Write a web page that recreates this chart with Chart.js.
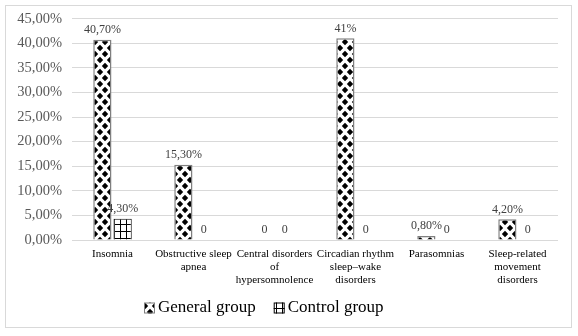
<!DOCTYPE html>
<html>
<head>
<meta charset="utf-8">
<script src="https://cdn.jsdelivr.net/npm/chart.js@4.4.0/dist/chart.umd.min.js"></script>
<style>
  html, body { margin: 0; padding: 0; background: #fff; }
  #wrap { width: 578px; height: 336px; }
</style>
</head>
<body>
<div id="wrap"><canvas id="chart" width="578" height="336"></canvas></div>
<script>
// Data
const categories = [
    ['Insomnia'],
    ['Obstructive sleep', 'apnea'],
    ['Central disorders', 'of', 'hypersomnolence'],
    ['Circadian rhythm', 'sleep\u2013wake', 'disorders'],
    ['Parasomnias'],
    ['Sleep-related', 'movement', 'disorders']
];
const generalValues = [40.7, 15.3, 0, 41, 0.8, 4.2];
const controlValues = [4.3, 0, 0, 0, 0, 0];
const generalLabels = ['40,70%', '15,30%', '0', '41%', '0,80%', '4,20%'];
const controlLabels = ['4,30%', '0', '0', '0', '0', '0'];
const yMax = 45;
const yStep = 5;

const serif = '"Liberation Serif", "Times New Roman", serif';

// Pattern fills
function diamondPattern() {
    const c = document.createElement('canvas');
    c.width = 10; c.height = 12;
    const g = c.getContext('2d');
    g.fillStyle = '#fff';
    g.fillRect(0, 0, 10, 12);
    g.fillStyle = '#000';
    const pts = [[0, 0], [10, 0], [0, 12], [10, 12], [5, 6]];
    pts.forEach(function(p) {
        g.beginPath();
        g.moveTo(p[0], p[1] - 3.2);
        g.lineTo(p[0] + 3.2, p[1]);
        g.lineTo(p[0], p[1] + 3.2);
        g.lineTo(p[0] - 3.2, p[1]);
        g.closePath();
        g.fill();
    });
    return g.createPattern(c, 'repeat');
}

function gridPattern() {
    const c = document.createElement('canvas');
    c.width = 6; c.height = 7;
    const g = c.getContext('2d');
    g.fillStyle = '#fff';
    g.fillRect(0, 0, 6, 7);
    g.fillStyle = '#000';
    g.fillRect(0, 0, 6, 1);
    g.fillRect(0, 0, 1, 7);
    return g.createPattern(c, 'repeat');
}

// Labels above bars
const barLabels = {
    id: 'barLabels',
    afterDatasetsDraw(chart) {
        const ctx = chart.ctx;
        const sets = [generalLabels, controlLabels];
        ctx.save();
        ctx.font = '12px ' + serif;
        ctx.fillStyle = '#404040';
        ctx.textAlign = 'center';
        ctx.textBaseline = 'bottom';
        chart.data.datasets.forEach(function(ds, i) {
            chart.getDatasetMeta(i).data.forEach(function(bar, j) {
                ctx.fillText(sets[i][j], bar.x, bar.y - 4);
            });
        });
        ctx.restore();
    }
};

// Frame and legend, Excel style
const frame = {
    id: 'frame',
    beforeDraw(chart) {
        const ctx = chart.ctx;
        ctx.save();
        ctx.fillStyle = '#fff';
        ctx.fillRect(0, 0, chart.width, chart.height);
        ctx.strokeStyle = '#d9d9d9';
        ctx.lineWidth = 1;
        ctx.strokeRect(5.5, 5.5, 566, 322);
        ctx.restore();
    },
    afterDraw(chart) {
        const ctx = chart.ctx;
        const box = 11, gapText = 3, gapItem = 18, cy = 308, centerX = 264;
        ctx.save();
        ctx.font = '17px ' + serif;
        const ds = chart.data.datasets;
        const widths = ds.map(function(d) { return ctx.measureText(d.label).width; });
        let total = 0;
        widths.forEach(function(w, i) { total += box + gapText + w + (i ? gapItem : 0); });
        let x = Math.round(centerX - total / 2);
        ds.forEach(function(d, i) {
            ctx.fillStyle = d.backgroundColor;
            ctx.fillRect(x, cy - box / 2, box, box);
            ctx.strokeStyle = d.borderColor;
            ctx.lineWidth = 1;
            ctx.strokeRect(x + 0.5, cy - box / 2 + 0.5, box - 1, box - 1);
            ctx.fillStyle = '#000';
            ctx.textBaseline = 'middle';
            ctx.fillText(d.label, x + box + gapText, cy);
            x += box + gapText + widths[i] + gapItem;
        });
        ctx.restore();
    }
};

const ctx = document.getElementById('chart').getContext('2d');
new Chart(ctx, {
    type: 'bar',
    data: {
        labels: categories,
        datasets: [{
            label: 'General group',
            data: generalValues,
            backgroundColor: diamondPattern(),
            borderColor: '#7f7f7f',
            borderWidth: 1.5,
            categoryPercentage: 0.5,
            barPercentage: 0.9
        }, {
            label: 'Control group',
            data: controlValues,
            backgroundColor: gridPattern(),
            borderColor: '#000',
            borderWidth: 1,
            categoryPercentage: 0.5,
            barPercentage: 0.9
        }]
    },
    options: {
        responsive: false,
        animation: false,
        layout: { padding: { top: 18, right: 20, left: 0, bottom: 46 } },
        plugins: {
            tooltip: { enabled: false },
            legend: { display: false }
        },
        scales: {
            x: {
                grid: { display: false, drawTicks: false },
                border: { display: false },
                ticks: {
                    color: '#000',
                    font: { family: serif, size: 11, lineHeight: 1.15 },
                    padding: 8,
                    maxRotation: 0,
                    autoSkip: false
                },
                afterFit: function(scale) { scale.height = 50; }
            },
            y: {
                min: 0,
                max: yMax,
                grid: { color: '#d9d9d9', drawTicks: false },
                border: { display: false },
                ticks: {
                    stepSize: yStep,
                    color: '#595959',
                    font: { family: serif, size: 14.5 },
                    padding: 10,
                    callback: function(v) { return v.toFixed(2).replace('.', ',') + '%'; }
                },
                afterFit: function(scale) { scale.width = 72; }
            }
        }
    },
    plugins: [frame, barLabels]
});
</script>
</body>
</html>
